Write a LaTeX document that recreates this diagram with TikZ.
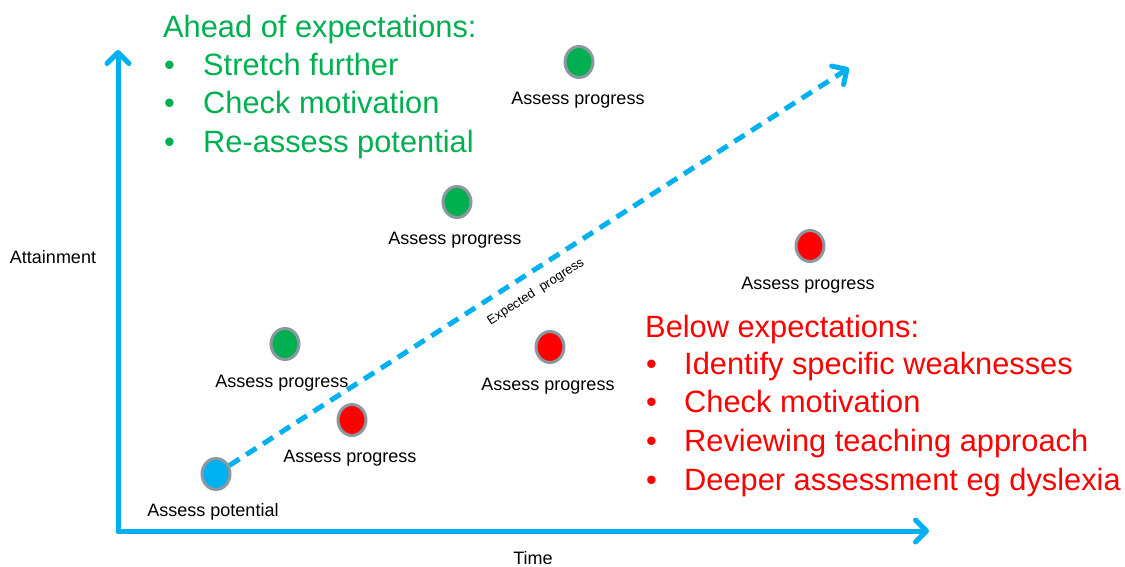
\documentclass[tikz,border=0pt]{standalone}
\usepackage{fontspec}
\setmainfont{Liberation Sans}
\usetikzlibrary{arrows.meta,shapes.geometric}
\definecolor{axisblue}{RGB}{0,176,240}
\definecolor{goodgreen}{RGB}{0,176,80}
\definecolor{badred}{RGB}{255,0,0}
\definecolor{dotrim}{RGB}{138,152,160}
\tikzset{
  axis/.style={axisblue,line width=5pt,line cap=round,
    -{Straight Barb[length=11pt,width=22pt,line width=5pt,round]}},
  dot/.style={ellipse,draw=dotrim,line width=3pt,minimum width=28pt,minimum height=31pt,inner sep=0pt},
  lbl/.style={anchor=base,font=\fontsize{18}{20}\selectfont,text=black,inner sep=0pt},
  big/.style={anchor=base west,font=\fontsize{30.8}{34}\selectfont,inner sep=0pt},
}
\begin{document}
\begin{tikzpicture}[x=1pt,y=-1pt]
\useasboundingbox (0,0) rectangle (1125,566);
% axes
\coordinate (O) at (118,531);
\coordinate (Ytip) at (118,50);
\coordinate (Xtip) at (929,531);
\draw[axis] (O) -- (Ytip);
\draw[axis] (O) -- (Xtip);
% dots
\node[dot,fill=axisblue] (p0) at (216,474) {};
\node[dot,fill=goodgreen] (g1) at (579,62) {};
\node[dot,fill=goodgreen] (g2) at (457,202) {};
\node[dot,fill=goodgreen] (g3) at (285,344) {};
\node[dot,fill=badred] (r1) at (352,420) {};
\node[dot,fill=badred] (r2) at (550,347) {};
\node[dot,fill=badred] (r3) at (810,246) {};
% expected progress line
\coordinate (E) at (849,68);
\draw[axisblue,line width=5pt,dash pattern=on 12pt off 8pt,
  -{Straight Barb[length=11pt,width=22pt,line width=5pt,round]}] (p0) -- (E);
\node[font=\fontsize{13}{15}\selectfont,rotate=32.7,inner sep=0pt] (ep) at (536,292) {Expected\ \ progress};
% labels
\node[lbl] (l0) at (213,516) {Assess potential};
\node[lbl] (l1) at (578,104) {Assess progress};
\node[lbl] (l2) at (455,244) {Assess progress};
\node[lbl] (l3) at (282,387) {Assess progress};
\node[lbl] (l4) at (350,462) {Assess progress};
\node[lbl] (l5) at (548,390) {Assess progress};
\node[lbl] (l6) at (808,289) {Assess progress};
\node[lbl] (att) at (53,263) {Attainment};
\node[lbl] (time) at (533,564) {Time};
% green list
\node[big,text=goodgreen] (gh) at (163,37) {Ahead of expectations:};
\node[big,text=goodgreen] (gb1) at (164,75) {•};
\node[big,text=goodgreen] (gt1) at (203,75) {Stretch further};
\node[big,text=goodgreen] (gb2) at (164,113) {•};
\node[big,text=goodgreen] (gt2) at (203,113) {Check motivation};
\node[big,text=goodgreen] (gb3) at (164,152) {•};
\node[big,text=goodgreen] (gt3) at (203,152) {Re-assess potential};
% red list
\node[big,text=badred] (rh) at (645,337) {Below expectations:};
\node[big,text=badred] (rb1) at (646,374) {•};
\node[big,text=badred] (rt1) at (684,374) {Identify specific weaknesses};
\node[big,text=badred] (rb2) at (646,412) {•};
\node[big,text=badred] (rt2) at (684,412) {Check motivation};
\node[big,text=badred] (rb3) at (646,451) {•};
\node[big,text=badred] (rt3) at (684,451) {Reviewing teaching approach};
\node[big,text=badred] (rb4) at (646,490) {•};
\node[big,text=badred] (rt4) at (684,490) {Deeper assessment eg dyslexia};
\end{tikzpicture}
\end{document}
